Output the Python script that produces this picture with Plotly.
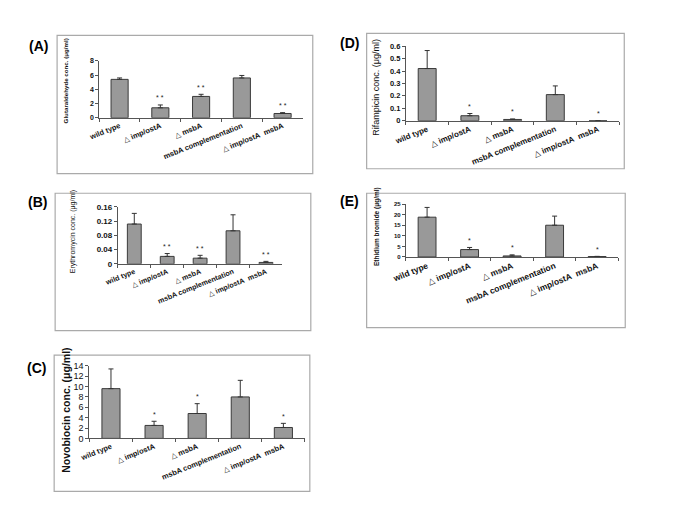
import plotly.graph_objects as go

W, H = 685, 513

categories = ["wild type", "\u25b3 imp/ostA", "\u25b3 msbA", "msbA complementation", "\u25b3 imp/ostA\u00a0\u00a0msbA"]

glut_vals = [5.4, 1.4, 3.0, 5.6, 0.6]
glut_err = [0.2, 0.4, 0.3, 0.35, 0.12]
glut_sig = ["", "* *", "* *", "", "* *"]

ery_vals = [0.112, 0.021, 0.016, 0.093, 0.004]
ery_err = [0.030, 0.008, 0.008, 0.045, 0.003]
ery_sig = ["", "* *", "* *", "", "* *"]

novo_vals = [9.6, 2.5, 4.8, 8.0, 2.1]
novo_err = [3.8, 0.8, 1.9, 3.2, 0.8]
novo_sig = ["", "*", "*", "", "*"]

rif_vals = [0.42, 0.04, 0.01, 0.21, 0.0]
rif_err = [0.145, 0.018, 0.004, 0.07, 0.0]
rif_sig = ["", "*", "*", "", "*"]

etbr_vals = [18.8, 3.5, 0.5, 15.0, 0.2]
etbr_err = [4.6, 1.0, 0.5, 4.3, 0.1]
etbr_sig = ["", "*", "*", "", "*"]

FONT = "Liberation Sans, Arial, DejaVu Sans, sans-serif"

panels = [
    dict(label="(A)", vals=glut_vals, err=glut_err, sig=glut_sig, ymax=8, dtick=2,
         title="Glutaraldehyde conc. (\u03bcg/ml)", px=(87, 295), py=(57, 115),
         box=(44, 31, 305, 172), lab=(25, 42), tfs=7, tbold=True, xfs=7.5, ttl=(53, 77, 6.2, True)),
    dict(label="(B)", vals=ery_vals, err=ery_err, sig=ery_sig, ymax=0.16, dtick=0.04,
         title="Erythromycin conc. (\u03bcg/ml)", px=(106, 274), py=(206, 264),
         box=(42, 192, 303, 332), lab=(24, 201), tfs=8, tbold=True, xfs=7.2, ttl=(61, 231, 7, False)),
    dict(label="(C)", vals=novo_vals, err=novo_err, sig=novo_sig, ymax=14, dtick=2,
         title="Novobiocin conc. (\u03bcg/ml)", px=(77, 297), py=(368, 442),
         box=(41, 357, 302, 496), lab=(23, 370), tfs=9, tbold=False, xfs=7.5, ttl=(53, 413, 10.5, True)),
    dict(label="(D)", vals=rif_vals, err=rif_err, sig=rif_sig, ymax=0.6, dtick=0.1,
         title="Rifampicin conc. (\u03bcg/ml)", px=(400, 618), py=(42, 118),
         box=(360, 29, 623, 167), lab=(343, 39), tfs=7.5, tbold=True, xfs=8, ttl=(370, 84, 9, False)),
    dict(label="(E)", vals=etbr_vals, err=etbr_err, sig=etbr_sig, ymax=25, dtick=5,
         title="Ethidium bromide (\u03bcg/ml)", px=(400, 617), py=(203, 257),
         box=(360, 192, 624, 329), lab=(343, 200), tfs=6, tbold=True, xfs=8.5, ttl=(370, 226, 6.5, True)),
]

fig = go.Figure()
annotations = []
shapes = []
layout = {}

for i, p in enumerate(panels):
    n = "" if i == 0 else str(i + 1)
    xa, ya = "x" + n, "y" + n
    fig.add_trace(go.Bar(
        x=categories, y=p["vals"], xaxis=xa, yaxis=ya, width=0.42,
        marker=dict(color="#999999", line=dict(color="#3a3a3a", width=1)),
        error_y=dict(type="data", array=p["err"], arrayminus=[0] * 5, symmetric=False,
                     color="#333333", thickness=1, width=2.5, visible=True),
        showlegend=False, hoverinfo="skip",
    ))
    x0, x1 = p["px"]
    y0, y1 = p["py"]
    layout["xaxis" + n] = dict(
        domain=[x0 / W, x1 / W], anchor=ya, type="category",
        showline=True, linecolor="#555555", linewidth=1,
        ticks="outside", ticklen=3, tickcolor="#555555", tickson="boundaries",
        tickangle=-22, tickfont=dict(family=FONT, size=p["xfs"], color="#111111", weight="bold"),
        showgrid=False, zeroline=False, fixedrange=True,
    )
    layout["yaxis" + n] = dict(
        domain=[1 - y1 / H, 1 - y0 / H], anchor=xa, range=[0, p["ymax"]],
        dtick=p["dtick"], tick0=0, showline=True, linecolor="#555555", linewidth=1,
        ticks="outside", ticklen=3, tickcolor="#555555",
        tickfont=dict(family=FONT, size=p["tfs"], color="#111111",
                      weight="bold" if p["tbold"] else "normal"),
        showgrid=False, zeroline=False, fixedrange=True,
    )
    bx0, by0, bx1, by1 = p["box"]
    shapes.append(dict(type="rect", xref="paper", yref="paper",
                       x0=bx0 / W, x1=bx1 / W, y0=1 - by1 / H, y1=1 - by0 / H,
                       line=dict(color="#aaaaaa", width=1.2)))
    annotations.append(dict(text=p["label"], xref="paper", yref="paper",
                            x=p["lab"][0] / W, y=1 - p["lab"][1] / H, showarrow=False,
                            font=dict(family=FONT, size=14, color="#000000", weight="bold"),
                            xanchor="center", yanchor="middle"))
    tx, ty, tfs, tb = p["ttl"]
    annotations.append(dict(text=p["title"], xref="paper", yref="paper",
                            x=tx / W, y=1 - ty / H, showarrow=False, textangle=-90,
                            font=dict(family=FONT, size=tfs, color="#111111",
                                      weight="bold" if tb else "normal"),
                            xanchor="center", yanchor="middle"))
    for c, v, e, s in zip(categories, p["vals"], p["err"], p["sig"]):
        if s:
            annotations.append(dict(text=s, x=c, y=v + e, xref=xa, yref=ya,
                                    showarrow=False, yshift=7, yanchor="middle",
                                    font=dict(family=FONT, size=7, color="#222222")))

fig.update_layout(
    width=W, height=H, margin=dict(l=0, r=0, t=0, b=0),
    paper_bgcolor="white", plot_bgcolor="white",
    annotations=annotations, shapes=shapes, bargap=0.5,
    **layout,
)

fig.write_html("out.html", config={"displayModeBar": False, "staticPlot": True},
               post_script="document.body.style.margin='0px';document.body.style.overflow='hidden';")
